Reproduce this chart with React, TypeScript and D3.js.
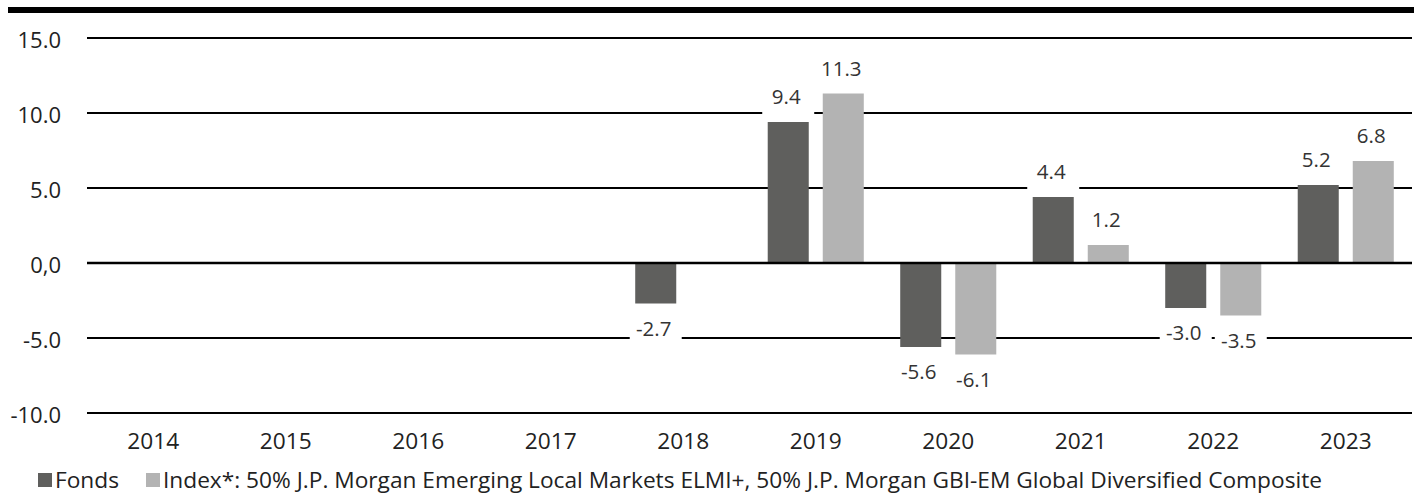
import React from "react";
import * as d3 from "d3";

const years = ["2014", "2015", "2016", "2017", "2018", "2019", "2020", "2021", "2022", "2023"];
const series = ["Fonds", "Index"];
const fondsValues: (number | null)[] = [null, null, null, null, -2.7, 9.4, -5.6, 4.4, -3.0, 5.2];
const indexValues: (number | null)[] = [null, null, null, null, null, 11.3, -6.1, 1.2, -3.5, 6.8];
const yTicks = [15, 10, 5, 0, -5, -10];
const yTickLabels = ["15.0", "10.0", "5.0", "0,0", "-5.0", "-10.0"];
const legendLabels = [
  "Fonds",
  "Index*: 50% J.P. Morgan Emerging Local Markets ELMI+, 50% J.P. Morgan GBI-EM Global Diversified Composite",
];
const colors = ["#5f5f5d", "#b3b3b3"];

const W = 1419;
const H = 495;
const left = 87;
const right = 1412;
const FONT = "'Open Sans', 'Liberation Sans', sans-serif";

export default function App() {
  const x = d3.scaleBand<string>().domain(years).range([left, right]).padding(0);
  const inner = d3
    .scaleBand<string>()
    .domain(series)
    .range([0, x.bandwidth()])
    .paddingInner(0.2545)
    .paddingOuter(0.331);
  const y = d3.scaleLinear().domain([-10, 15]).range([413, 38]);

  const data = [fondsValues, indexValues];
  const fmt = (v: number) => v.toFixed(1);

  const bars: any[] = [];
  const labels: any[] = [];
  data.forEach((vals, si) => {
    vals.forEach((v, i) => {
      if (v === null) return;
      const bx = (x(years[i]) as number) + (inner(series[si]) as number);
      const bw = inner.bandwidth();
      const y0 = y(0);
      const y1 = y(v);
      bars.push(
        <rect
          key={`b${si}-${i}`}
          x={bx}
          y={Math.min(y0, y1)}
          width={bw}
          height={Math.abs(y1 - y0)}
          fill={colors[si]}
        />
      );
      const cx = bx + bw / 2;
      const baseline = v >= 0 ? y1 - 18 : y1 + 32;
      labels.push(
        <g key={`l${si}-${i}`}>
          <rect x={cx - 26} y={baseline - 22} width={52} height={32} fill="#fff" />
          <text
            x={cx - 2}
            y={baseline}
            textAnchor="middle"
            fontSize={20.5}
            fill="#333"
            fontFamily={FONT}
          >
            {fmt(v)}
          </text>
        </g>
      );
    });
  });

  return (
    <svg
      width={W}
      height={H}
      style={{ position: "absolute", left: 0, top: 0, background: "#fff" }}
    >
      <rect x={8} y={7} width={1414 - 8} height={6} fill="#000" />
      {yTicks.map((t, i) => (
        <g key={`g${t}`}>
          {t !== 0 && (
            <line x1={left} x2={right} y1={y(t)} y2={y(t)} stroke="#000" strokeWidth={2} />
          )}
          <text
            x={61}
            y={y(t) + 9.5}
            textAnchor="end"
            fontSize={22}
            fill="#222"
            fontFamily={FONT}
          >
            {yTickLabels[i]}
          </text>
        </g>
      ))}
      {bars}
      <line x1={left} x2={right} y1={y(0)} y2={y(0)} stroke="#000" strokeWidth={2.5} />
      {labels}
      {years.map((yr) => (
        <text
          key={yr}
          x={(x(yr) as number) + x.bandwidth() / 2}
          y={449}
          textAnchor="middle"
          fontSize={22.7}
          fill="#222"
          fontFamily={FONT}
        >
          {yr}
        </text>
      ))}
      <rect x={38} y={473} width={14} height={14} fill={colors[0]} />
      <text x={55} y={488} fontSize={22.7} fill="#222" fontFamily={FONT}>
        {legendLabels[0]}
      </text>
      <rect x={146} y={473} width={14} height={14} fill={colors[1]} />
      <text x={163} y={488} fontSize={22.7} fill="#222" fontFamily={FONT}>
        {legendLabels[1]}
      </text>
    </svg>
  );
}
